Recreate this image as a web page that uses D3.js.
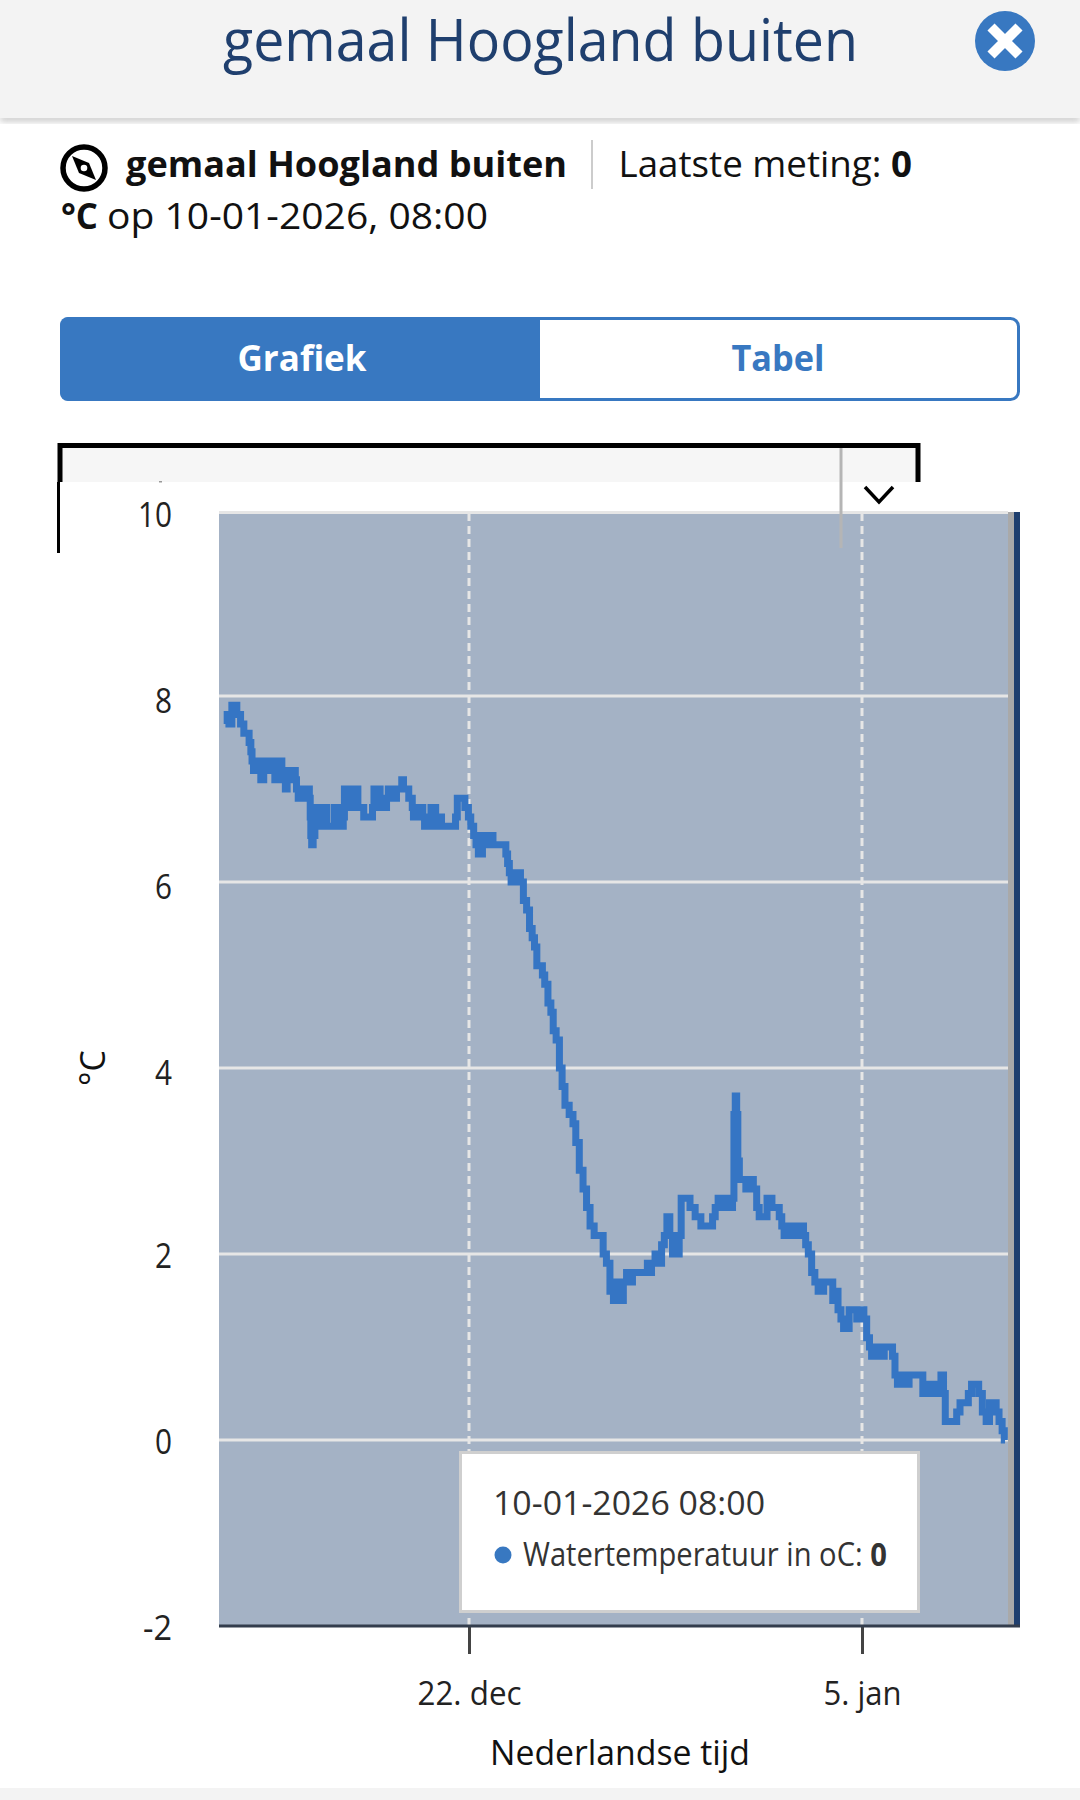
<!DOCTYPE html>
<html>
<head>
<meta charset="utf-8">
<script src="https://cdn.jsdelivr.net/npm/d3@7"></script>
<style>
  html, body { margin: 0; padding: 0; background: #fff; }
  svg { display: block; font-family: "Open Sans", sans-serif; }
</style>
</head>
<body>
<svg id="chart" width="1080" height="1800"></svg>
<script>
// hours after 13 Dec 2025 00:00
const hours = [
  9, 9.5, 12, 14.5, 17, 18, 20, 21.4, 23, 24, 27, 29, 30, 31, 32.5,
  34, 36, 37, 39, 42, 44, 47, 49, 51, 53, 55, 57, 58, 60, 61,
  63, 67, 68, 69, 71, 73, 75, 79, 80, 80.5, 81, 82, 83.5, 85, 87,
  90, 92, 94, 95, 100, 102, 105, 106, 108, 109, 110, 113, 115, 118, 120,
  122, 125, 127, 133, 134, 135.5, 139, 141, 145, 146, 148, 153, 155, 158, 159,
  161, 164, 165, 167, 168, 169, 172, 173, 176, 177, 179, 183, 184, 187, 188,
  191, 192, 193, 204, 205, 207, 212, 213, 215, 216, 219, 221, 223, 225, 227,
  228, 232, 233, 236, 237, 247, 248, 250, 251, 253, 256, 257, 259, 261, 264,
  266.5, 269, 271, 273, 275, 278, 279.5, 282, 285, 287, 289, 292, 294.6, 296.6, 299.5,
  303.8, 306, 308.6, 312, 315, 318, 321, 325, 329.4, 332, 335, 338, 341, 343.7, 346.5,
  349.4, 352, 354.5, 357, 368, 369, 370.5, 373.6, 376.5, 379.3, 382, 384, 386.4, 389, 391,
  395, 396.4, 398.4, 404.4, 405.5, 408.7, 410, 413.5, 415, 423.5, 425, 428, 430, 433.5, 437.7,
  440.6, 442, 443, 444.3, 445.4, 446.3, 448, 452, 453.4, 455, 457.7, 460.5, 463.4, 464.8, 467.6,
  474, 476, 480.5, 482, 484.8, 486, 489, 492, 495, 498, 501, 503, 504.7, 507.5, 510.4,
  513, 516, 518, 520.4, 526, 528, 530, 533, 535, 537.5, 540, 542, 546, 549, 550,
  552.6, 554.6, 557.4, 559.4, 561, 564.6, 569, 573, 577.4, 578.8, 581.6, 583, 586, 590, 594.5,
  603, 605, 608, 612, 615, 618, 621, 622.4, 624, 631.5, 634.4, 637.2, 641.5, 644.3, 647,
  650, 653.5, 656.3, 660, 662, 665.7, 667.7, 670.6, 673, 674.3
];
const temps = [
  7.7, 7.8, 7.7, 7.9, 7.9, 7.8, 7.8, 7.7, 7.7, 7.6, 7.6, 7.5, 7.4, 7.3, 7.2,
  7.3, 7.2, 7.3, 7.1, 7.2, 7.3, 7.2, 7.3, 7.1, 7.2, 7.3, 7.2, 7.1, 7.0, 7.1,
  7.2, 7.2, 7.1, 7.0, 6.9, 7.0, 6.9, 7.0, 6.9, 6.7, 6.5, 6.4, 6.5, 6.7, 6.8,
  6.6, 6.8, 6.8, 6.6, 6.6, 6.8, 6.8, 6.6, 6.6, 6.7, 7.0, 6.8, 7.0, 6.8, 7.0,
  6.8, 6.8, 6.7, 6.7, 6.8, 7.0, 7.0, 6.8, 6.8, 6.9, 7.0, 6.9, 7.0, 7.0, 7.1,
  7.0, 7.0, 6.9, 6.9, 6.8, 6.7, 6.7, 6.8, 6.8, 6.7, 6.6, 6.6, 6.8, 6.8, 6.6,
  6.6, 6.7, 6.6, 6.6, 6.7, 6.9, 6.9, 6.8, 6.8, 6.7, 6.6, 6.5, 6.4, 6.3, 6.3,
  6.5, 6.4, 6.5, 6.5, 6.4, 6.4, 6.3, 6.2, 6.1, 6.0, 6.0, 6.1, 6.1, 6.0, 5.8,
  5.7, 5.5, 5.4, 5.3, 5.1, 5.1, 5.0, 4.9, 4.7, 4.6, 4.4, 4.3, 4.0, 3.8, 3.6,
  3.5, 3.4, 3.2, 2.9, 2.7, 2.5, 2.3, 2.2, 2.2, 2.0, 1.9, 1.6, 1.5, 1.7, 1.5,
  1.7, 1.8, 1.7, 1.8, 1.8, 1.9, 1.8, 1.9, 2.0, 1.9, 2.1, 2.2, 2.4, 2.2, 2.0,
  2.0, 2.2, 2.6, 2.6, 2.5, 2.5, 2.4, 2.4, 2.3, 2.3, 2.4, 2.5, 2.6, 2.5, 2.6,
  2.5, 2.6, 3.5, 3.7, 3.5, 3.0, 2.8, 2.8, 2.7, 2.8, 2.8, 2.7, 2.5, 2.4, 2.4,
  2.6, 2.5, 2.5, 2.4, 2.3, 2.2, 2.3, 2.2, 2.3, 2.2, 2.3, 2.2, 2.1, 2.0, 1.8,
  1.7, 1.6, 1.6, 1.7, 1.7, 1.5, 1.6, 1.4, 1.3, 1.2, 1.2, 1.4, 1.4, 1.3, 1.3,
  1.4, 1.3, 1.1, 1.0, 0.9, 1.0, 0.9, 1.0, 1.0, 0.9, 0.7, 0.6, 0.7, 0.6, 0.7,
  0.7, 0.5, 0.6, 0.5, 0.6, 0.5, 0.7, 0.5, 0.2, 0.2, 0.3, 0.4, 0.4, 0.5, 0.6,
  0.6, 0.5, 0.3, 0.2, 0.4, 0.4, 0.3, 0.2, 0.1, 0.0
];
const yTicks = [-2, 0, 2, 4, 6, 8, 10];
const xTicks = [new Date(Date.UTC(2025, 11, 22)), new Date(Date.UTC(2026, 0, 5))];
const xTickLabels = ["22. dec", "5. jan"];
const stationName = "gemaal Hoogland buiten";
const seriesName = "Watertemperatuur in oC: ";
const lastTime = "10-01-2026 08:00";

const start = Date.UTC(2025, 11, 13);
const data = hours.map((h, i) => ({ t: new Date(start + h * 3600000), v: temps[i] }));

const svg = d3.select("#chart");
const blue = "#3878c1";
const navy = "#1f3f6e";

// plot box in page pixels
const plotL = 219, plotR = 1008, plotB = 1626;

const x = d3.scaleUtc().domain(xTicks).range([469, 862]);
const y = d3.scaleLinear().domain([-2, 10]).range([plotB, 510]);

function label(t, px, py, opts) {
  const o = opts || {};
  const el = svg.append("text")
    .attr("x", px).attr("y", py)
    .attr("font-size", o.size || 34)
    .attr("font-weight", o.weight || 400)
    .attr("fill", o.fill || "#222")
    .attr("text-anchor", o.anchor || "start");
  if (t) el.text(t);
  // the original font is narrower than anything installed
  if (o.width) el.attr("textLength", o.width).attr("lengthAdjust", "spacingAndGlyphs");
  return el;
}

// text with a bold end, squeezed as a whole with a transform
function mixed(first, second, px, py, width, opts) {
  const el = label(null, 0, 0, opts);
  el.append("tspan").attr("xml:space", "preserve").style("white-space", "pre").text(first);
  el.append("tspan").attr("font-weight", 700).text(second);
  const sx = width / el.node().getComputedTextLength();
  el.attr("transform", `translate(${px},${py}) scale(${sx},1)`);
  return el;
}

// header
const defs = svg.append("defs");
const blur = defs.append("filter").attr("id", "soft").attr("y", "-50%").attr("height", "200%");
blur.append("feGaussianBlur").attr("stdDeviation", 3);
svg.append("rect").attr("x", 0).attr("y", 116).attr("width", 1080).attr("height", 5)
  .attr("fill", "#bbb").attr("filter", "url(#soft)");
svg.append("rect").attr("width", 1080).attr("height", 118).attr("fill", "#f3f3f3");
label(stationName, 223, 61, { size: 58, fill: navy, width: 635 });

svg.append("circle").attr("cx", 1005).attr("cy", 41).attr("r", 30).attr("fill", blue);
svg.append("path").attr("d", "M-14,-14L14,14M14,-14L-14,14")
  .attr("transform", "translate(1005,41)")
  .attr("stroke", "#fff").attr("stroke-width", 10).attr("fill", "none");

// station line
svg.append("circle").attr("cx", 84).attr("cy", 168).attr("r", 21)
  .attr("fill", "none").attr("stroke", "#000").attr("stroke-width", 5.5);
svg.append("path").attr("d", "M-12,-12L5,-5L12,12L-5,5Z")
  .attr("transform", "translate(84,168)").attr("fill", "#000");
svg.append("circle").attr("cx", 84).attr("cy", 168).attr("r", 3.3).attr("fill", "#fff");

label(stationName, 126, 177, { size: 36, weight: 700, fill: "#111", width: 441 });
svg.append("rect").attr("x", 591).attr("y", 140).attr("width", 2).attr("height", 49).attr("fill", "#ccc");
mixed("Laatste meting: ", "0", 618.5, 177, 293.5, { size: 36, fill: "#111" });
label("°C", 61, 229, { size: 36, weight: 700, fill: "#111", width: 37 });
label("op 10-01-2026, 08:00", 107, 229, { size: 36, fill: "#111", width: 381 });

// tabs
svg.append("rect").attr("x", 61.5).attr("y", 318.5).attr("width", 957).attr("height", 81).attr("rx", 8)
  .attr("fill", "#fff").attr("stroke", blue).attr("stroke-width", 3);
svg.append("path").attr("d", "M540,317H68a8,8 0 0 0 -8,8V393a8,8 0 0 0 8,8H540Z").attr("fill", blue);
label("Grafiek", 302, 371, { size: 36, weight: 700, fill: "#fff", anchor: "middle", width: 129 });
label("Tabel", 778, 371, { size: 36, weight: 700, fill: blue, anchor: "middle", width: 93 });

// cut off dropdown above the chart
svg.append("rect").attr("x", 59).attr("y", 446).attr("width", 858).attr("height", 36).attr("fill", "#f6f6f6");
svg.append("path").attr("d", "M60,482V445.5H918V482").attr("fill", "none").attr("stroke", "#000").attr("stroke-width", 5);
svg.append("rect").attr("x", 60).attr("y", 482).attr("width", 1020).attr("height", 1310).attr("fill", "#fff");
svg.append("rect").attr("x", 57).attr("y", 482).attr("width", 3).attr("height", 71).attr("fill", "#000");
svg.append("rect").attr("x", 159).attr("y", 481).attr("width", 3).attr("height", 1.5).attr("fill", "#999");
svg.append("path").attr("d", "M865,487L879,502L893,487").attr("fill", "none").attr("stroke", "#000").attr("stroke-width", 3.5);

// plot area
const plotT = 513;
svg.append("rect").attr("x", plotL).attr("y", plotT).attr("width", plotR - plotL).attr("height", plotB - plotT).attr("fill", "#a4b2c5");
svg.append("rect").attr("x", plotL).attr("y", 511).attr("width", plotR - plotL).attr("height", 3).attr("fill", "#e6e6e6");

const gridX = svg.append("g");
gridX.selectAll("line").data(xTicks).join("line")
  .attr("x1", d => x(d)).attr("x2", d => x(d))
  .attr("y1", plotT).attr("y2", plotB)
  .attr("stroke", "#e6e6e6").attr("stroke-width", 3).attr("stroke-dasharray", "8 5");

const gridY = svg.append("g");
gridY.selectAll("line").data(yTicks.filter(d => d > -2 && d < 10)).join("line")
  .attr("x1", plotL).attr("x2", plotR)
  .attr("y1", d => y(d)).attr("y2", d => y(d))
  .attr("stroke", "#e6e6e6").attr("stroke-width", 3);

// end of the plot: grey range band and navy edge
svg.append("rect").attr("x", 1008).attr("y", 512).attr("width", 6).attr("height", plotB - 512).attr("fill", "#a9a9a9");
svg.append("rect").attr("x", 1014).attr("y", 512).attr("width", 6).attr("height", plotB - 512).attr("fill", navy);

// grey line of the dropdown runs over the plot
svg.append("rect").attr("x", 839.5).attr("y", 448).attr("width", 3).attr("height", 100).attr("fill", "#b5b5b5");

// series, the sensor reports in steps of 0.1 so the line is a staircase
const line = d3.line().curve(d3.curveStep).x(d => x(d.t)).y(d => y(d.v));
svg.append("path").datum(data)
  .attr("d", line)
  .attr("fill", "none").attr("stroke", "#3575c4").attr("stroke-width", 7);

// axes
const yAxis = d3.axisLeft(y).tickValues(yTicks).tickFormat(d => String(d)).tickSize(0).tickPadding(0);
const gy = svg.append("g").attr("transform", "translate(172,0)").call(yAxis);
gy.select(".domain").remove();
gy.selectAll("text")
  .attr("font-family", "'Open Sans', sans-serif").attr("font-size", 34).attr("fill", "#222")
  .attr("dy", null).attr("y", d => d === 10 ? 16 : d >= 4 ? 16.5 : 13.5)
  .attr("textLength", d => d === 10 ? 34 : d < 0 ? 29 : 17).attr("lengthAdjust", "spacingAndGlyphs");

const xAxis = d3.axisBottom(x).tickValues(xTicks).tickFormat((d, i) => xTickLabels[i]).tickSize(28).tickPadding(22);
const gx = svg.append("g").attr("transform", `translate(0,${plotB})`).call(xAxis);
gx.select(".domain").remove();
gx.selectAll("line").attr("stroke", "#444").attr("stroke-width", 3);
gx.selectAll("text")
  .attr("font-family", "'Open Sans', sans-serif").attr("font-size", 33).attr("fill", "#222")
  .attr("dy", null).attr("y", 79).attr("textLength", (d, i) => i ? 78 : 104).attr("lengthAdjust", "spacingAndGlyphs");
svg.append("rect").attr("x", plotL).attr("y", plotB - 1.5).attr("width", 1020 - plotL).attr("height", 3).attr("fill", "#333d4d");

label("Nederlandse tijd", 620, 1765, { size: 35, anchor: "middle", width: 260, fill: "#111" });
label("°C", 0, 0, { size: 34, anchor: "middle", fill: "#111" }).attr("transform", "translate(105,1068) rotate(-90)");

// tooltip
svg.append("rect").attr("x", 460.5).attr("y", 1452.5).attr("width", 458).attr("height", 159)
  .attr("fill", "#fff").attr("stroke", "#cfcfcf").attr("stroke-width", 3);
label(lastTime, 493, 1515, { size: 32, fill: "#333", width: 272 });
svg.append("circle").attr("cx", 503).attr("cy", 1555).attr("r", 8.5).attr("fill", blue);
mixed(seriesName, "0", 523, 1566, 364, { size: 32, fill: "#333" });

// footer strip
svg.append("rect").attr("y", 1788).attr("width", 1080).attr("height", 12).attr("fill", "#f3f3f3");
</script>
</body>
</html>
